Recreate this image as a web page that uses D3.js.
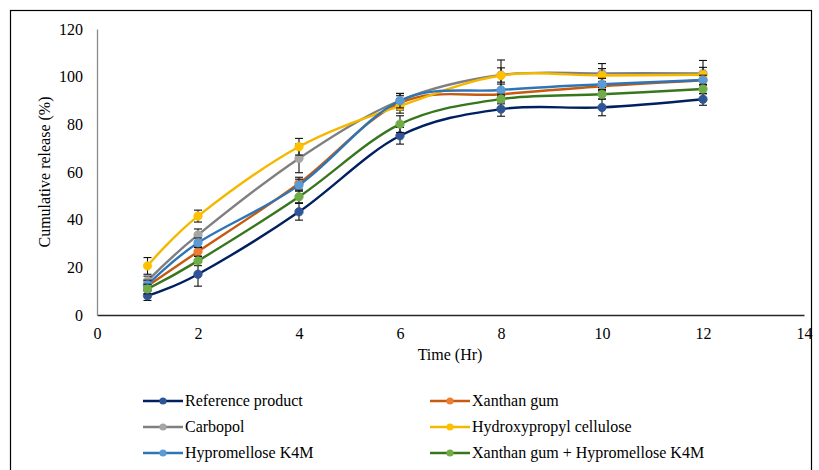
<!DOCTYPE html>
<html><head><meta charset="utf-8">
<script src="https://cdn.jsdelivr.net/npm/d3@7"></script>
<style>body{margin:0;background:#fff}svg{display:block}</style>
</head><body><svg id="c" width="819" height="470"></svg>
<script>
const times = [1, 2, 4, 6, 8, 10, 12];
const xTicks = [0, 2, 4, 6, 8, 10, 12, 14];
const yTicks = [0, 20, 40, 60, 80, 100, 120];
const seriesNames = ["Reference product", "Xanthan gum", "Carbopol", "Hydroxypropyl cellulose", "Hypromellose K4M", "Xanthan gum + Hypromellose K4M"];
const refProduct = [8.1, 17.1, 43.3, 75.2, 86.4, 87.1, 90.5];
const xanthanGum = [12.2, 26.6, 55.3, 89, 92.6, 96, 98.5];
const carbopol = [14.3, 33.6, 65.7, 90, 100.7, 101.4, 101.4];
const hpc = [20.6, 41.5, 70.6, 87.7, 100.5, 100.5, 100.8];
const hpmc = [12.6, 30.3, 54.5, 89.9, 94.4, 96.8, 98.6];
const xgHpmc = [10.9, 22.7, 49.6, 80.1, 90.6, 92.6, 94.8];
const errRef = [2, 5, 3.5, 3.5, 3, 3.5, 2.5];
const errXg = [2, 2, 2.5, 3, 2, 2, 2];
const errCarb = [2, 2.5, 6, 3, 3, 2, 2.5];
const errHpc = [3.5, 2.5, 3.5, 3, 6.5, 5, 6];
const errHpmc = [2, 2, 2.5, 3, 2.5, 2.5, 2];
const errXgH = [2, 2, 2.5, 3.5, 2, 2, 2];
const lineColors = ["#002060", "#C55A11", "#7F7F7F", "#F5B800", "#2E75B6", "#38761D"];
const markerColors = ["#2F5597", "#ED7D31", "#A5A5A5", "#FFC000", "#5B9BD5", "#70AD47"];

const values = [refProduct, xanthanGum, carbopol, hpc, hpmc, xgHpmc];
const errs = [errRef, errXg, errCarb, errHpc, errHpmc, errXgH];
const FONT = "'Liberation Serif', 'Times New Roman', 'DejaVu Serif', serif";

const svg = d3.select("#c");
svg.append("rect").attr("x", 10.5).attr("y", 10.5).attr("width", 801).attr("height", 480)
  .attr("fill", "none").attr("stroke", "#000").attr("stroke-width", 1.2);

const x = d3.scaleLinear().domain([0, 14]).range([97, 804]);
const y = d3.scaleLinear().domain([0, 120]).range([315, 29]);

const gx = svg.append("g").attr("transform", "translate(0,315)")
  .call(d3.axisBottom(x).tickValues(xTicks).tickSize(0).tickPadding(13));
gx.select(".domain").attr("stroke", "#262626").attr("stroke-width", 1.3);
gx.selectAll("text").style("font-size", "16px").style("font-family", FONT).style("fill", "#000");
const gy = svg.append("g").attr("transform", "translate(97,0)")
  .call(d3.axisLeft(y).tickValues(yTicks).tickSize(0).tickPadding(14));
gy.select(".domain").attr("stroke", "#8c8c8c").attr("stroke-width", 1.3);
gy.selectAll("text").style("font-size", "16px").style("font-family", FONT).style("fill", "#000");

svg.append("text").attr("x", 450).attr("y", 360).attr("text-anchor", "middle")
  .style("font-size", "16px").style("font-family", FONT).text("Time (Hr)");
svg.append("text").attr("transform", "translate(50,172) rotate(-90)").attr("text-anchor", "middle")
  .style("font-size", "16px").style("font-family", FONT).text("Cumulative release (%)");

const line = d3.line().x((d, i) => x(times[i])).y(d => y(d)).curve(d3.curveCardinal.tension(0));

values.forEach((vals, s) => {
  const g = svg.append("g");
  g.append("path").attr("d", line(vals)).attr("fill", "none")
    .attr("stroke", lineColors[s]).attr("stroke-width", 2.4);
  vals.forEach((v, i) => {
    const e = errs[s][i];
    const cx = x(times[i]);
    g.append("line").attr("x1", cx).attr("x2", cx).attr("y1", y(v + e)).attr("y2", y(v - e))
      .attr("stroke", "#111").attr("stroke-width", 1.1);
    [v + e, v - e].forEach(w => g.append("line").attr("x1", cx - 4).attr("x2", cx + 4)
      .attr("y1", y(w)).attr("y2", y(w)).attr("stroke", "#111").attr("stroke-width", 1.1));
  });
  g.selectAll("circle").data(vals).enter().append("circle")
    .attr("cx", (d, i) => x(times[i])).attr("cy", d => y(d)).attr("r", 4.2)
    .attr("fill", markerColors[s]).attr("stroke", markerColors[s]).attr("stroke-width", 0.8);
});

const legPos = [[143, 401], [430, 401], [143, 427], [430, 427], [143, 453], [430, 453]];
seriesNames.forEach((n, s) => {
  const [lx, ly] = legPos[s];
  svg.append("line").attr("x1", lx).attr("x2", lx + 40).attr("y1", ly).attr("y2", ly)
    .attr("stroke", lineColors[s]).attr("stroke-width", 2.4);
  svg.append("circle").attr("cx", lx + 20).attr("cy", ly).attr("r", 3.6).attr("fill", markerColors[s]);
  svg.append("text").attr("x", lx + 42).attr("y", ly + 5).style("font-size", "16px")
    .style("font-family", FONT).style("fill", "#000").text(n);
});
</script></body></html>
